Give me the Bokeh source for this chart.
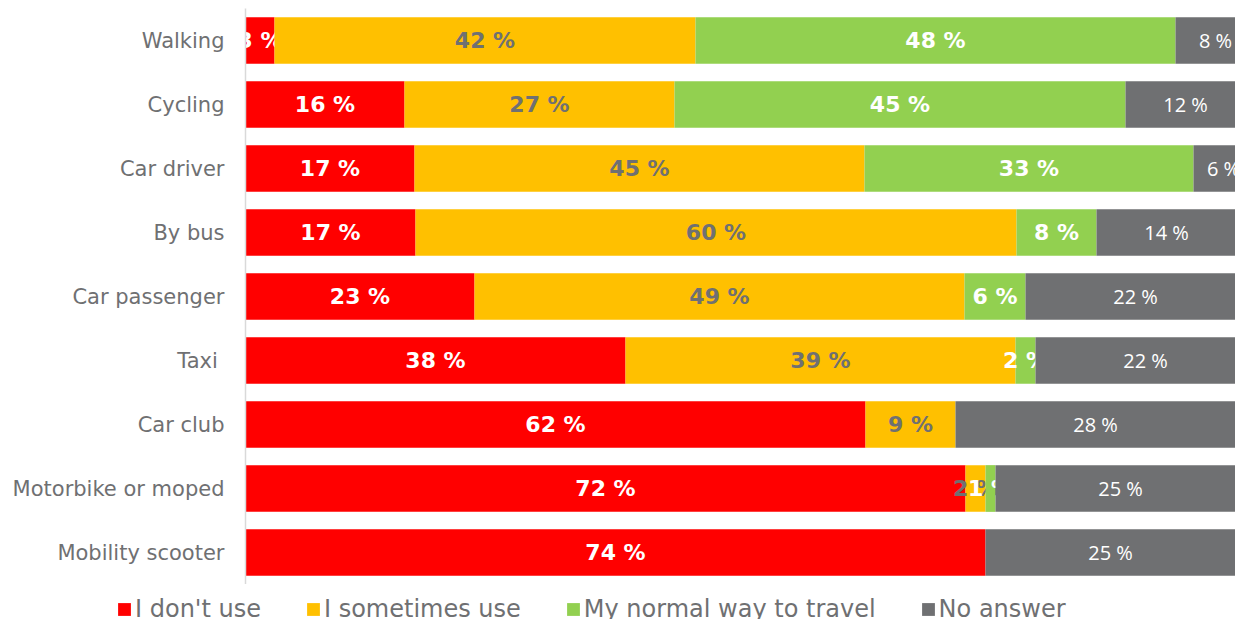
from bokeh.plotting import figure
from bokeh.layouts import column
from bokeh.models import ColumnDataSource, Range1d, FactorRange, Legend, LegendItem
from bokeh.core.properties import value
from bokeh.embed import file_html
from bokeh.resources import INLINE

categories = ["Walking", "Cycling", "Car driver", "By bus", "Car passenger",
              "Taxi ", "Car club", "Motorbike or moped", "Mobility scooter"]
series_names = ["I don't use", "I sometimes use", "My normal way to travel", "No answer"]
dont_use = [2.9, 15.9, 16.9, 17.0, 22.9, 38.0, 62.0, 72.0, 74.0]
sometimes_use = [42.1, 27.0, 45.0, 60.1, 49.0, 39.0, 9.0, 2.0, 0.0]
normal_way = [48.0, 45.1, 32.9, 8.0, 6.1, 2.0, 0.0, 1.0, 0.0]
no_answer = [8.0, 12.0, 6.0, 14.0, 22.0, 22.0, 28.0, 25.0, 25.0]

colors = ["#FF0000", "#FFC000", "#92D050", "#6F7072"]
GRAY = "#6F7072"

p = figure(width=1235, height=584, output_backend="svg", toolbar_location=None,
           y_range=FactorRange(*list(reversed(categories))),
           x_range=Range1d(0, 99),
           min_border_left=245, min_border_right=0, min_border_top=8, min_border_bottom=0)
p.outline_line_color = None
p.xgrid.visible = False
p.ygrid.visible = False
p.xaxis.visible = False
p.background_fill_color = "white"

ax = p.yaxis[0]
ax.axis_line_color = "#D9D9D9"
ax.axis_line_width = 1.5
ax.major_tick_line_color = None
ax.minor_tick_line_color = None
ax.major_tick_out = 0
ax.major_tick_in = 0
ax.major_label_standoff = 21
ax.major_label_text_font = "DejaVu Sans"
ax.major_label_text_font_size = "21px"
ax.major_label_text_color = GRAY

# legend strip below the chart (its frame spans the full width)
lg = figure(width=1235, height=35, output_backend="svg", toolbar_location=None,
            x_range=Range1d(0, 99), y_range=FactorRange(*list(reversed(categories))),
            min_border_left=0, min_border_right=0, min_border_top=0, min_border_bottom=0)
lg.frame_align = False
lg.outline_line_color = None
lg.xgrid.visible = False
lg.ygrid.visible = False
lg.xaxis.visible = False
lg.yaxis.visible = False

all_series = [dont_use, sometimes_use, normal_way, no_answer]
styles = [("white", "DejaVu Sans", "bold", "22px"),
          (GRAY, "DejaVu Sans", "bold", "22px"),
          ("white", "DejaVu Sans", "bold", "22px"),
          ("white", "Open Sans", "normal", "20px")]

items = []
lefts = [0.0] * len(categories)
for name, vals, col, sty in zip(series_names, all_series, colors, styles):
    rights = [l + v for l, v in zip(lefts, vals)]
    src = ColumnDataSource(dict(cat=categories, left=lefts, right=rights,
                                mid=[(l + r) / 2 for l, r in zip(lefts, rights)],
                                lab=[f"{round(v)} %" if v > 0 else "" for v in vals]))
    p.hbar(y="cat", left="left", right="right", height=0.73, source=src,
           fill_color=col, line_color=None)
    p.text(x="mid", y="cat", text="lab", source=src, text_align="center",
           text_baseline="middle", text_color=sty[0], text_font=value(sty[1]),
           text_font_style=sty[2], text_font_size=sty[3])
    # legend swatch renderer (hidden; only its legend glyph is drawn)
    r = lg.hbar(y="cat", left="left", right="right", height=0.73, source=src,
                fill_color=col, line_color=None, visible=False)
    items.append(LegendItem(label=name, renderers=[r]))
    lefts = rights

legend = Legend(items=items, orientation="horizontal", location=(116, -4),
                glyph_width=16, glyph_height=16, label_standoff=3, spacing=44,
                padding=0, margin=0, border_line_color=None, background_fill_alpha=0,
                label_text_font="DejaVu Sans", label_text_font_size="24px",
                label_text_color=GRAY, click_policy="none")
lg.add_layout(legend, "center")

layout = column(p, lg, spacing=0)
open("out.html", "w").write(file_html(layout, INLINE))
